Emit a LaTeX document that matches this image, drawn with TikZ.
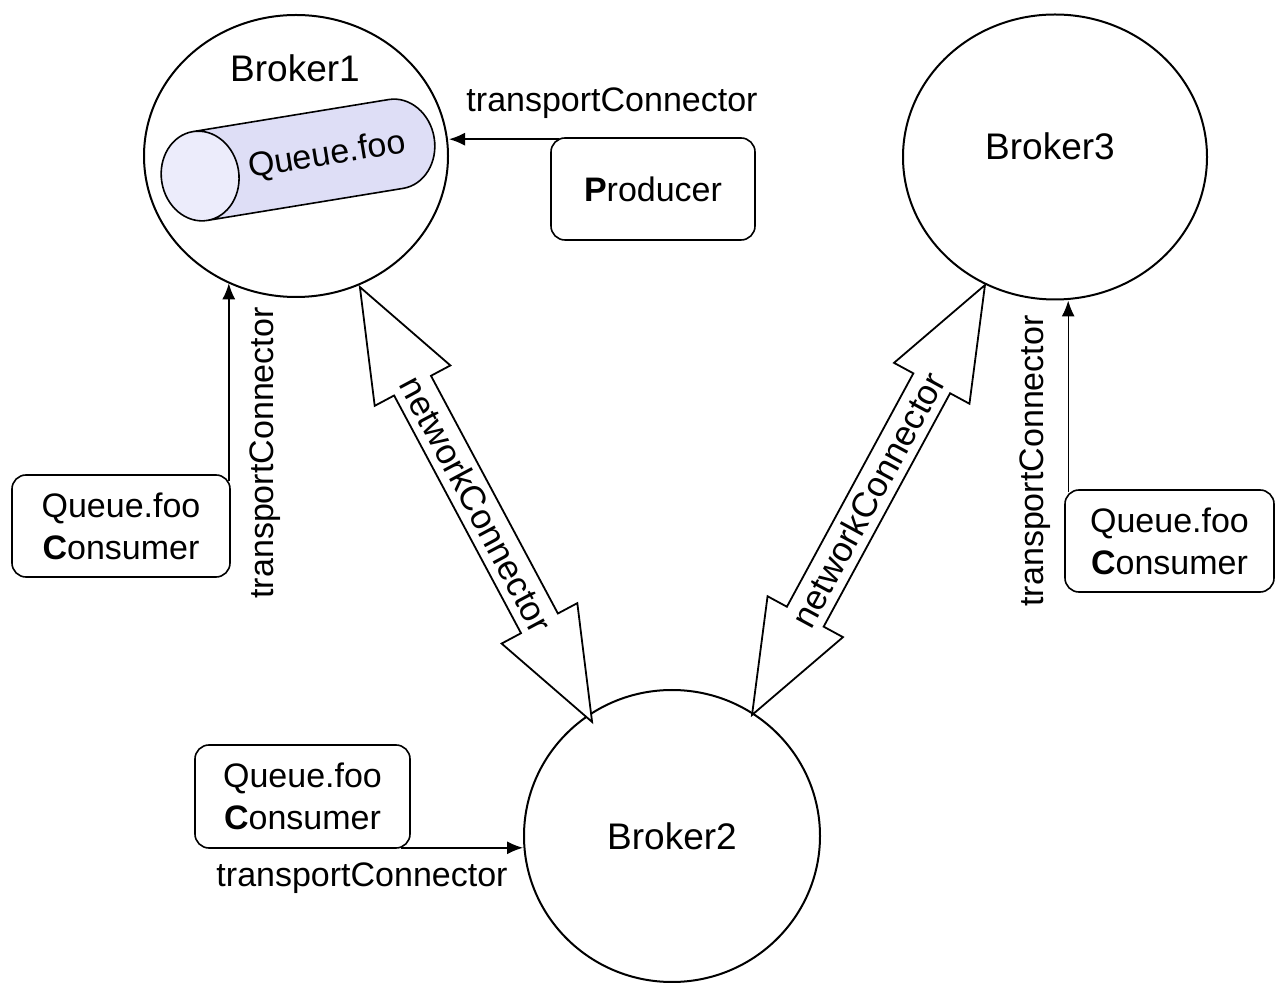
\documentclass[tikz,border=0pt]{standalone}
\usepackage{fontspec}
\setmainfont{Liberation Sans}
\usetikzlibrary{shapes.geometric,shapes.arrows,arrows.meta}
\definecolor{qbody}{RGB}{222,222,246}
\definecolor{qend}{RGB}{236,236,251}
\begin{document}
\begin{tikzpicture}[x=0.5pt,y=-0.5pt,
  broker/.style={ellipse, draw, line width=1pt, inner sep=0pt},
  box/.style={draw, rounded corners=7pt, line width=0.8pt, inner sep=0pt, align=center, font=\fontsize{17}{21}\selectfont},
  lbl/.style={font=\fontsize{17}{20}\selectfont, inner sep=0pt},
  bname/.style={font=\fontsize{18.5}{22}\selectfont, inner sep=0pt},
  conn/.style={-{Latex[length=8pt,width=6.5pt]}, line width=0.7pt},
  netarrow/.style={double arrow, draw, line width=0.9pt, fill=white, double arrow head extend=11pt, double arrow tip angle=42, inner xsep=0pt, inner ysep=4pt, text height=12pt, text depth=0pt, font=\fontsize{17.5}{20}\selectfont}]

\useasboundingbox (0,0) rectangle (1275,983);

% brokers
\node[broker, minimum width=152pt, minimum height=141pt] (b1) at (296,156) {};
\node[broker, minimum width=152pt, minimum height=142.5pt] (b3) at (1055,157) {};
\node[broker, minimum width=148pt, minimum height=146pt] (b2) at (672,836) {};
\node[bname] (b1t) at (295,68) {Broker1};
\node[bname] (b3t) at (1050,146) {Broker3};
\node[bname] (b2t) at (672,836) {Broker2};

% queue cylinder
\node[cylinder, draw, line width=0.8pt, shape border rotate=180, rotate=9.3, aspect=2.5,
  minimum height=133pt, minimum width=45pt, inner sep=0pt, anchor=shape center,
  cylinder uses custom fill, cylinder body fill=qbody, cylinder end fill=qend,
  font=\fontsize{17}{20}\selectfont] (q) at (298,160) {\phantom{Queue.foo}};
\node[lbl, rotate=9.3] (qt) at (327,156) {Queue.foo};

% boxes
\node[box, minimum width=102pt, minimum height=51pt] (prod) at (653,189) {\textbf{P}roducer};
\node[box, minimum width=109pt, minimum height=51pt] (c1) at (121,526) {Queue.foo\\\textbf{C}onsumer};
\node[box, minimum width=104.5pt, minimum height=51pt] (c3) at (1169.5,541) {Queue.foo\\\textbf{C}onsumer};
\node[box, minimum width=107.5pt, minimum height=51.5pt] (c2) at (302.5,796.5) {Queue.foo\\\textbf{C}onsumer};

% network connectors
\node[netarrow, minimum height=246.5pt, rotate=-61.9] (n1) at (476,504.5) {networkConnector};
\node[netarrow, minimum height=244.5pt, rotate=61.55] (n2) at (868.5,500) {networkConnector};

% transport connector labels
\node[lbl] (tc1) at (612,103) {transportConnector};
\node[lbl, rotate=90] (tc2) at (265,453) {transportConnector};
\node[lbl, rotate=90] (tc3) at (1035,461) {transportConnector};
\node[lbl] (tc4) at (362,878) {transportConnector};

% transport connectors
\coordinate (ps) at ([xshift=4.5pt,yshift=-1pt]prod.north west);
\draw[conn] (ps) -- (ps -| b1.east);
\coordinate (cs1) at ([xshift=-1pt,yshift=-3.5pt]c1.north east);
\draw[conn] (cs1) -- (cs1 |- b1.-118);
\coordinate (cs3) at ([xshift=2pt,yshift=-1.5pt]c3.north west);
\draw[conn] (cs3) -- (cs3 |- b3.south);
\coordinate (cs2) at ([xshift=-5pt,yshift=0.5pt]c2.south east);
\draw[conn] (cs2) -- (cs2 -| b2.west);
\end{tikzpicture}
\end{document}
